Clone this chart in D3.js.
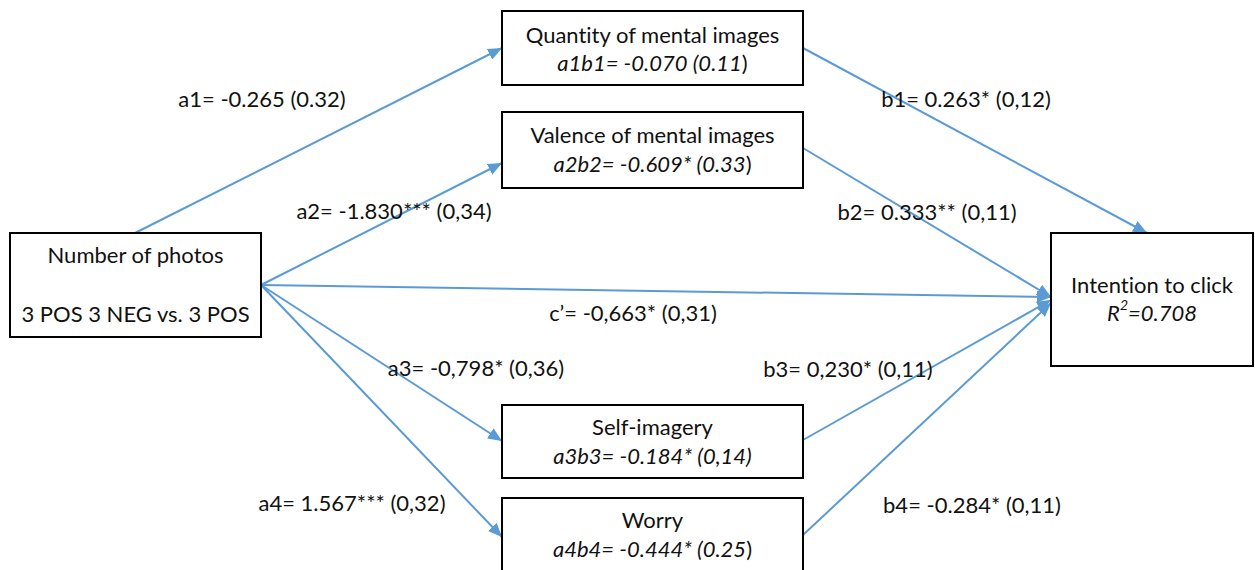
<!DOCTYPE html>
<html>
<head>
<meta charset="utf-8">
<script src="https://cdn.jsdelivr.net/npm/d3@7"></script>
<style>
  html, body { margin: 0; padding: 0; background: #fff; }
  svg { display: block; }
  text { font-family: Lato, "Open Sans", sans-serif; fill: #111; font-variant-ligatures: none; }
</style>
</head>
<body>
<svg id="chart" width="1255" height="570"></svg>
<script>
// Variables in the mediation model
const nodeIds = ["X", "M1", "M2", "M3", "M4", "Y"];
const nodeTitles = ["Number of photos", "Quantity of mental images", "Valence of mental images",
                    "Self-imagery", "Worry", "Intention to click"];
// Indirect effects (a*b) with standard errors; second line inside each box
const nodeSubtitles = [
  [{t: "3 POS 3 NEG vs. 3 POS", i: false}],
  [{t: "a1b1= -0.070 (0.11", i: true}, {t: ")", i: false}],
  [{t: "a2b2= -0.609* (0.33", i: true}, {t: ")", i: false}],
  [{t: "a3b3= -0.184* (0,14)", i: true}],
  [{t: "a4b4= -0.444* (0.25", i: true}, {t: ")", i: false}],
  [{t: "R", i: true}, {t: "2", i: true, sup: true}, {t: "=0.708", i: true}]
];

// Path coefficients (SE)
const pathFrom = ["X", "X", "X", "X", "X", "M1", "M2", "M3", "M4"];
const pathTo   = ["M1", "M2", "Y", "M3", "M4", "Y", "Y", "Y", "Y"];
const pathLabels = ["a1= -0.265 (0.32)", "a2= -1.830*** (0,34)", "c\u2019= -0,663* (0,31)",
                    "a3= -0,798* (0,36)", "a4= 1.567*** (0,32)", "b1= 0.263* (0,12)",
                    "b2= 0.333** (0,11)", "b3= 0,230* (0,11)", "b4= -0.284* (0,11)"];

// ---- layout ----
const boxes = {
  X:  {x: 10,   y: 233, w: 251, h: 104, ty: [254, 313]},
  M1: {x: 502,  y: 11,  w: 301, h: 74,  ty: [34, 62]},
  M2: {x: 502,  y: 112, w: 301, h: 76,  ty: [134, 163]},
  M3: {x: 502,  y: 405, w: 301, h: 73,  ty: [426, 455]},
  M4: {x: 502,  y: 498, w: 301, h: 80,  ty: [519, 548]},
  Y:  {x: 1051, y: 233, w: 202, h: 133, ty: [284, 312]}
};
// start / end anchor points of each path
const pathStart = [[135, 233], [261, 285], [261, 285], [261, 285], [261, 285],
                   [803, 48], [803, 148], [803, 440], [803, 535]];
const pathEnd   = [[502, 48], [502, 163], [1051, 297], [502, 441], [502, 537],
                   [1147, 233], [1051, 297], [1051, 300], [1051, 303]];
const labelPos  = [[262, 98], [394, 210], [633, 312], [476, 367], [352, 502],
                   [966, 98], [927, 211], [848, 368], [972, 504]];

const svg = d3.select("#chart");
const blue = "#5b9bd5";
const fs = 22;

svg.append("defs").append("marker")
  .attr("id", "arrow")
  .attr("markerUnits", "userSpaceOnUse")
  .attr("viewBox", "0 0 14 12")
  .attr("refX", 14).attr("refY", 6)
  .attr("markerWidth", 14).attr("markerHeight", 12)
  .attr("orient", "auto")
  .append("path")
  .attr("d", "M0,0 L14,6 L0,12 Z")
  .attr("fill", blue);

// paths
const paths = pathFrom.map((f, k) => ({from: f, to: pathTo[k], s: pathStart[k], e: pathEnd[k], label: pathLabels[k], lp: labelPos[k]}));

svg.append("g").selectAll("line").data(paths).join("line")
  .attr("x1", d => d.s[0]).attr("y1", d => d.s[1])
  .attr("x2", d => d.e[0]).attr("y2", d => d.e[1])
  .attr("stroke", blue).attr("stroke-width", 2)
  .attr("marker-end", "url(#arrow)");

// boxes
const nodes = nodeIds.map((id, k) => ({id, title: nodeTitles[k], sub: nodeSubtitles[k], b: boxes[id]}));
const g = svg.append("g").selectAll("g").data(nodes).join("g");
g.append("rect")
  .attr("x", d => d.b.x).attr("y", d => d.b.y)
  .attr("width", d => d.b.w).attr("height", d => d.b.h)
  .attr("fill", "#fff").attr("stroke", "#000").attr("stroke-width", 2);
g.append("text")
  .attr("x", d => d.b.x + d.b.w / 2).attr("y", d => d.b.ty[0])
  .attr("text-anchor", "middle").attr("dominant-baseline", "central")
  .attr("font-size", fs)
  .text(d => d.title);
const sub = g.append("text")
  .attr("x", d => d.b.x + d.b.w / 2).attr("y", d => d.b.ty[1])
  .attr("text-anchor", "middle").attr("dominant-baseline", "central")
  .attr("font-size", fs);
sub.selectAll("tspan").data(d => d.sub).join("tspan")
  .attr("font-style", p => p.i ? "italic" : "normal")
  .attr("font-size", p => p.sup ? 14 : fs)
  .attr("dy", (p, k, arr) => p.sup ? -8 : (k > 0 && arr[k - 1].__data__.sup ? 8 : 0))
  .text(p => p.t);

// path labels
svg.append("g").selectAll("text").data(paths).join("text")
  .attr("x", d => d.lp[0]).attr("y", d => d.lp[1])
  .attr("text-anchor", "middle").attr("dominant-baseline", "central")
  .attr("font-size", fs)
  .text(d => d.label);
</script>
</body>
</html>
